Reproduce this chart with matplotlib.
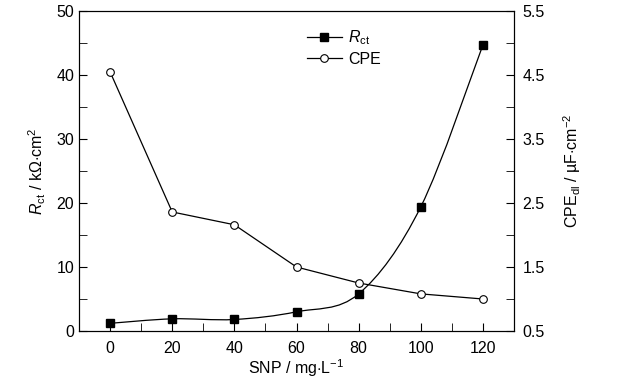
import matplotlib
matplotlib.use("Agg")
import matplotlib.pyplot as plt
import numpy as np
from matplotlib.path import Path
from matplotlib.patches import PathPatch
from matplotlib.ticker import MultipleLocator
from matplotlib.lines import Line2D

plt.rcParams.update({
    "font.family": ["Liberation Sans", "DejaVu Sans"],
    "mathtext.fontset": "custom",
    "mathtext.rm": "Liberation Sans",
    "mathtext.it": "Liberation Sans:italic",
    "font.size": 11,
})

snp = [0, 20, 40, 60, 80, 100, 120]
rct = [1.2, 1.9, 1.8, 3.0, 5.8, 19.4, 44.7]
cpe = [4.55, 2.36, 2.16, 1.5, 1.25, 1.08, 1.0]


def smooth_path(x, y):
    # Catmull-Rom through the points, drawn as cubic Bezier segments
    x, y = np.asarray(x, float), np.asarray(y, float)
    verts = [(x[0], y[0])]
    codes = [Path.MOVETO]
    n = len(x)
    for i in range(n - 1):
        x0, y0 = (x[i - 1], y[i - 1]) if i > 0 else (x[i], y[i])
        x3, y3 = (x[i + 2], y[i + 2]) if i + 2 < n else (x[i + 1], y[i + 1])
        c1 = (x[i] + (x[i + 1] - x0) / 6, y[i] + (y[i + 1] - y0) / 6)
        c2 = (x[i + 1] - (x3 - x[i]) / 6, y[i + 1] - (y3 - y[i]) / 6)
        verts += [c1, c2, (x[i + 1], y[i + 1])]
        codes += [Path.CURVE4] * 3
    return Path(verts, codes)


fig = plt.figure(figsize=(6.2, 3.82), dpi=100)
ax = fig.add_axes([79 / 620, 1 - 331 / 382, 435 / 620, 320 / 382])
ax2 = ax.twinx()

ax.add_patch(PathPatch(smooth_path(snp, rct), fill=False, lw=0.9, color="black"))
ax.plot(snp, rct, "s", color="black", ms=5.5, ls="none")
ax2.plot(snp, cpe, "-o", color="black", lw=0.9, ms=5.5, mfc="white", mew=0.8)

ax.set_xlim(-10, 130)
ax.set_ylim(0, 50)
ax2.set_ylim(0.5, 5.5)

ax.xaxis.set_major_locator(MultipleLocator(20))
ax.xaxis.set_minor_locator(MultipleLocator(10))
ax.yaxis.set_major_locator(MultipleLocator(10))
ax.yaxis.set_minor_locator(MultipleLocator(5))
ax2.set_yticks([0.5, 1.5, 2.5, 3.5, 4.5, 5.5])
ax2.set_yticks([1.0, 2.0, 3.0, 4.0, 5.0], minor=True)

for a in (ax, ax2):
    a.tick_params(which="both", direction="in", labelsize=11.5, length=6)
ax.tick_params(top=False, right=False)
ax.tick_params(axis="x", pad=7)
ax2.tick_params(axis="y", pad=6)

ax.set_xlabel("SNP / mg$\\cdot$L$^{-1}$", fontsize=11.5, labelpad=1)
ax.set_ylabel("$R_{\\rm ct}$ / k$\\Omega$$\\cdot$cm$^{2}$", fontsize=11.5, labelpad=6)
ax2.set_ylabel("CPE$_{\\rm dl}$ / \u00b5F$\\cdot$cm$^{-2}$", fontsize=11.5,
               rotation=90, labelpad=12)

handles = [
    Line2D([], [], color="black", marker="s", lw=0.9, ms=5.5),
    Line2D([], [], color="black", marker="o", lw=0.9, ms=5.5, mfc="white", mew=0.8),
]
ax.legend(handles, ["$R_{\\rm ct}$", "CPE"], loc="upper left",
          bbox_to_anchor=(0.49, 0.99), frameon=False, fontsize=11.5,
          handlelength=2.2, handletextpad=0.4, labelspacing=0.3)

fig.savefig("out.png", dpi=100)
